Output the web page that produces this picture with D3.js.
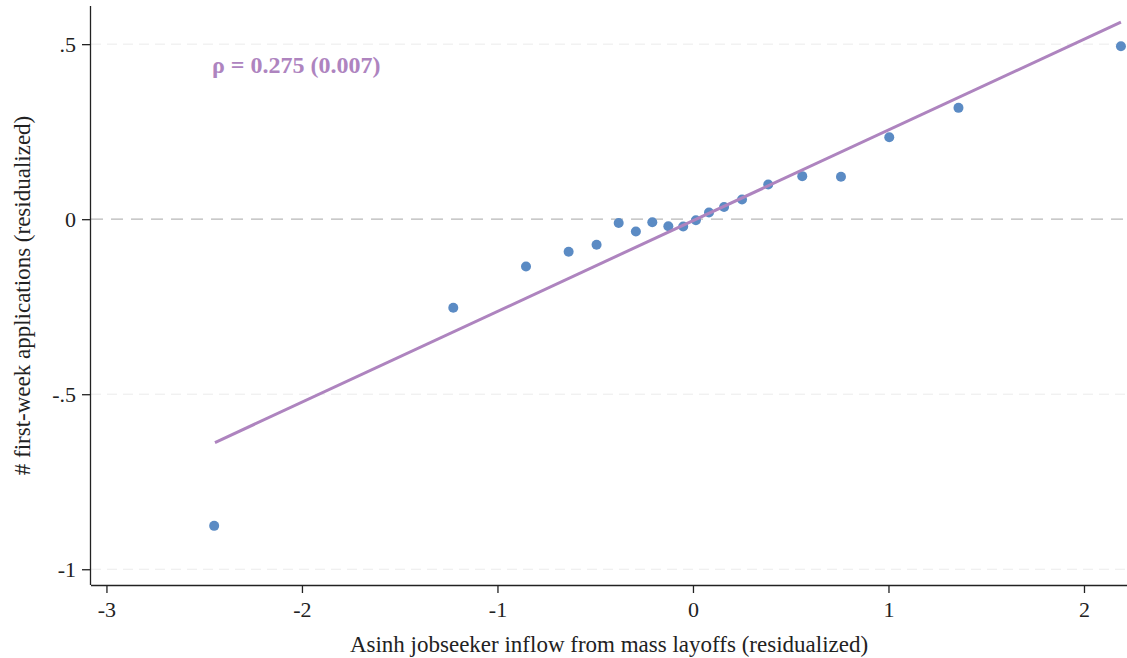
<!DOCTYPE html>
<html>
<head>
<meta charset="utf-8">
<script src="https://cdn.jsdelivr.net/npm/d3@7"></script>
<style>
  body { margin: 0; background: #fff; }
  svg text { font-family: "Liberation Serif", "Times New Roman", "DejaVu Serif", serif; }
</style>
</head>
<body>
<svg width="1127" height="658"></svg>
<script>
// binned scatter values
var binX = [-2.449, -1.226, -0.854, -0.636, -0.493, -0.380, -0.292, -0.208, -0.126, -0.050,
            0.015, 0.082, 0.159, 0.251, 0.385, 0.559, 0.757, 1.004, 1.358, 2.189];
var binY = [-0.876, -0.253, -0.135, -0.093, -0.073, -0.011, -0.035, -0.009, -0.020, -0.021,
            -0.003, 0.019, 0.035, 0.056, 0.099, 0.123, 0.121, 0.234, 0.318, 0.494];

// fitted line end points
var fitX = [-2.445, 2.189];
var fitY = [-0.638, 0.563];

var xTicks = [-3, -2, -1, 0, 1, 2];
var xTickLabels = ["-3", "-2", "-1", "0", "1", "2"];
var yTicks = [-1, -0.5, 0, 0.5];
var yTickLabels = ["-1", "-.5", "0", ".5"];

var serif = "'Liberation Serif', 'Times New Roman', serif";

var svg = d3.select("svg"),
    margin = {top: 6, right: 0, bottom: 73, left: 91},
    width = svg.attr("width") - margin.left - margin.right,
    height = svg.attr("height") - margin.top - margin.bottom,
    g = svg.append("g").attr("transform", "translate(" + margin.left + "," + margin.top + ")");

var x = d3.scaleLinear().domain([-3.079, 2.220]).range([0, width]),
    y = d3.scaleLinear().domain([-1.045, 0.609]).range([height, 0]);

var dotColor = "#5b8bc4",
    fitColor = "#ae84bf";

// light grid lines
g.append("g")
    .selectAll("line")
    .data(yTicks.filter(function(d) { return d !== 0; }))
    .enter().append("line")
    .attr("x1", 0).attr("x2", width)
    .attr("y1", function(d) { return y(d); })
    .attr("y2", function(d) { return y(d); })
    .attr("stroke", "#ebebeb")
    .attr("stroke-width", 1)
    .attr("stroke-dasharray", "10,6");

// zero reference line
g.append("line")
    .attr("x1", 0).attr("x2", width)
    .attr("y1", y(0)).attr("y2", y(0))
    .attr("stroke", "#b8b8b8")
    .attr("stroke-width", 1.3)
    .attr("stroke-dasharray", "12,8");

var points = binX.map(function(v, i) { return {x: v, y: binY[i]}; });

g.selectAll(".dot").data(points)
    .enter().append("circle")
    .attr("class", "dot")
    .attr("cx", function(d) { return x(d.x); })
    .attr("cy", function(d) { return y(d.y); })
    .attr("r", 5)
    .attr("fill", dotColor);

var line = d3.line()
    .x(function(d) { return x(d[0]); })
    .y(function(d) { return y(d[1]); });

g.append("path")
    .datum(fitX.map(function(v, i) { return [v, fitY[i]]; }))
    .attr("d", line)
    .attr("fill", "none")
    .attr("stroke", fitColor)
    .attr("stroke-width", 3);

// axes
var xAxis = g.append("g")
    .attr("transform", "translate(0," + height + ")")
    .call(d3.axisBottom(x).tickValues(xTicks).tickSize(8).tickPadding(8)
        .tickFormat(function(d, i) { return xTickLabels[i]; }));

var yAxis = g.append("g")
    .call(d3.axisLeft(y).tickValues(yTicks).tickSize(9).tickPadding(6)
        .tickFormat(function(d, i) { return yTickLabels[i]; }));

[xAxis, yAxis].forEach(function(a) {
    a.attr("font-family", serif).attr("font-size", 22);
    a.select(".domain").attr("stroke", "#222").attr("stroke-width", 1.3);
    a.selectAll(".tick line").attr("stroke", "#222").attr("stroke-width", 1.3);
    a.selectAll(".tick text").attr("fill", "#222");
});
xAxis.select(".domain").attr("d", "M0,0.5H" + width);
yAxis.select(".domain").attr("d", "M-0.5," + height + "V0");

svg.append("text")
    .attr("x", margin.left + width / 2)
    .attr("y", 652)
    .attr("text-anchor", "middle")
    .attr("fill", "#222")
    .attr("font-family", serif)
    .attr("font-size", 23)
    .text("Asinh jobseeker inflow from mass layoffs (residualized)");

svg.append("text")
    .attr("transform", "translate(30," + (margin.top + height / 2) + ") rotate(-90)")
    .attr("text-anchor", "middle")
    .attr("fill", "#222")
    .attr("font-family", serif)
    .attr("font-size", 23)
    .text("# first-week applications (residualized)");

svg.append("text")
    .attr("x", 212)
    .attr("y", 73)
    .attr("fill", fitColor)
    .attr("font-family", serif)
    .attr("font-size", 24)
    .attr("font-weight", "bold")
    .text("ρ = 0.275 (0.007)");
</script>
</body>
</html>
